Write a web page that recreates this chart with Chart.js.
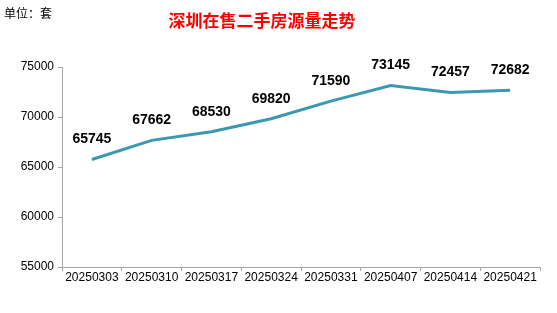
<!DOCTYPE html>
<html>
<head>
<meta charset="utf-8">
<script src="https://cdn.jsdelivr.net/npm/chart.js@4/dist/chart.umd.min.js"></script>
<style>
  html, body { margin: 0; padding: 0; background: #fff; }
  #wrap { position: relative; width: 557px; height: 313px; }
</style>
</head>
<body>
<div id="wrap"><canvas id="myChart"></canvas></div>
<script>
// data
const weeks = ["20250303", "20250310", "20250317", "20250324", "20250331", "20250407", "20250414", "20250421"];
const listings = [65745, 67662, 68530, 69820, 71590, 73145, 72457, 72682];
const yTicks = [55000, 60000, 65000, 70000, 75000];

const chartTitle = "深圳在售二手房源量走势";
const unitText = "单位：套";

// title + unit text + point labels
const textPlugin = {
    id: "texts",
    afterDraw(chart) {
        const ctx = chart.ctx;
        ctx.save();
        ctx.fillStyle = "#ff0000";
        ctx.font = "bold 17px 'Noto Sans CJK SC'";
        ctx.textAlign = "center";
        ctx.textBaseline = "middle";
        ctx.fillText(chartTitle, 262, 21);

        ctx.fillStyle = "#000";
        ctx.font = "12px 'Noto Sans CJK SC'";
        ctx.textAlign = "left";
        ctx.fillText(unitText, 4, 13);

        ctx.font = "bold 14px 'Liberation Sans'";
        ctx.textAlign = "center";
        const meta = chart.getDatasetMeta(0);
        meta.data.forEach((pt, i) => {
            ctx.fillText(String(listings[i]), pt.x, pt.y - 20);
        });
        ctx.restore();
    }
};

const axisGray = "#a6a6a6";

new Chart(document.getElementById("myChart").getContext("2d"), {
    type: "line",
    data: {
        labels: weeks,
        datasets: [{
            data: listings,
            borderColor: "rgb(60,152,178)",
            borderWidth: 3,
            pointRadius: 0,
            fill: false,
            tension: 0
        }]
    },
    options: {
        responsive: true,
        maintainAspectRatio: false,
        animation: false,
        layout: { padding: { top: 67, right: 17, bottom: 26, left: 0 } },
        plugins: { legend: { display: false }, tooltip: { enabled: false } },
        scales: {
            x: {
                offset: true,
                grid: { offset: true, drawOnChartArea: false, drawTicks: true, tickLength: 4, color: axisGray },
                border: { color: axisGray },
                ticks: { color: "#000", font: { family: "'Liberation Sans'", size: 12 }, padding: -1, maxRotation: 0, autoSkip: false },
                afterFit(s) { s.height = 20; }
            },
            y: {
                min: 55000,
                max: 75000,
                afterBuildTicks(s) { s.ticks = yTicks.map(v => ({ value: v })); },
                grid: { drawOnChartArea: false, drawTicks: true, tickLength: 4, color: axisGray },
                border: { color: axisGray },
                ticks: { color: "#000", font: { family: "'Liberation Sans'", size: 12 }, padding: 4, callback: v => String(v) },
                afterFit(s) { s.width = 62; }
            }
        }
    },
    plugins: [textPlugin]
});
</script>
</body>
</html>
